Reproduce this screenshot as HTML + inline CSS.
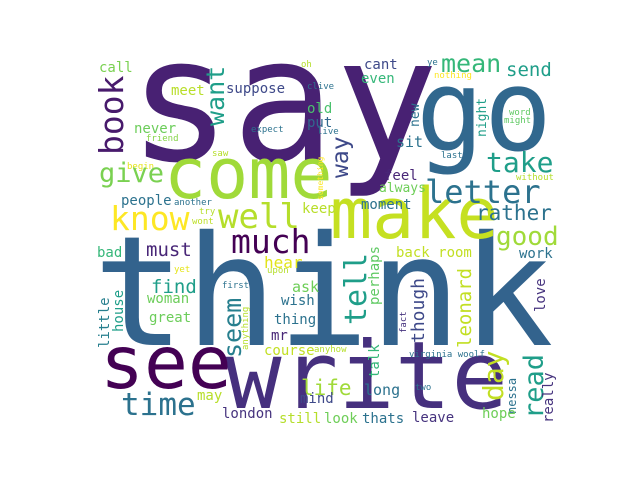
<!DOCTYPE html>
<html><head><meta charset="utf-8"><style>
html,body{margin:0;padding:0;background:#fff;}
svg{display:block;}
text{font-family:"DejaVu Sans Mono","Liberation Mono",monospace;}
</style></head><body>
<svg width="640" height="480" viewBox="0 0 640 480">
<rect width="640" height="480" fill="#fff"/>
<text x="128" y="160" font-size="172" fill="#482173">say</text>
<text x="93" y="345" font-size="153" fill="#33638d">think</text>
<text x="416" y="150" font-size="113" fill="#31688e">go</text>
<text x="164" y="198" font-size="70" fill="#a0da39">come</text>
<text x="330" y="238" font-size="70" fill="#c5e021">make</text>
<text x="225" y="408" font-size="94" fill="#46307e">write</text>
<text x="100" y="388" font-size="73" fill="#440154">see</text>
<text transform="translate(123,155) rotate(-90)" font-size="33" fill="#481a6c">book</text>
<text transform="translate(224,126) rotate(-90)" font-size="25" fill="#1f9e89">want</text>
<text x="99" y="72" font-size="14" fill="#7ad151">call</text>
<text x="226" y="93" font-size="14" fill="#3e4989">suppose</text>
<text x="171" y="95" font-size="14" fill="#b8de29">meet</text>
<text x="134" y="133" font-size="14" fill="#6ccd5a">never</text>
<text x="146" y="141" font-size="9" fill="#86d549">friend</text>
<text x="251" y="132" font-size="9" fill="#2c728e">expect</text>
<text x="212" y="156" font-size="9" fill="#b5de2b">saw</text>
<text x="301" y="67" font-size="9" fill="#b5de2b">oh</text>
<text x="307" y="89" font-size="9" fill="#2c728e">clive</text>
<text x="307" y="113" font-size="14" fill="#4ac16d">old</text>
<text x="307" y="127" font-size="14" fill="#31688e">put</text>
<text x="317" y="134" font-size="9" fill="#2c728e">live</text>
<text x="127" y="169" font-size="9" fill="#e5e419">begin</text>
<text transform="translate(323,200) rotate(-90)" font-size="8" fill="#fde725">something</text>
<text x="99" y="182" font-size="27" fill="#7ad151">give</text>
<text x="121" y="205" font-size="14" fill="#2c728e">people</text>
<text x="174" y="205" font-size="9" fill="#2c728e">another</text>
<text x="199" y="214" font-size="9" fill="#b5de2b">try</text>
<text x="192" y="224" font-size="9" fill="#bddf26">wont</text>
<text x="110" y="230" font-size="33" fill="#fde725">know</text>
<text x="218" y="228" font-size="34" fill="#b5de2b">well</text>
<text x="302" y="213" font-size="14" fill="#b8de29">keep</text>
<text x="231" y="253" font-size="33" fill="#440154">much</text>
<text x="146" y="256" font-size="19" fill="#482677">must</text>
<text x="97" y="257" font-size="14" fill="#35b779">bad</text>
<text x="264" y="268" font-size="16" fill="#e2e418">hear</text>
<text x="174" y="272" font-size="9" fill="#e5e419">yet</text>
<text x="267" y="273" font-size="9" fill="#b5de2b">upon</text>
<text x="151" y="293" font-size="19" fill="#1f9e89">find</text>
<text x="222" y="288" font-size="9" fill="#2c728e">first</text>
<text x="292" y="292" font-size="15" fill="#6ece58">ask</text>
<text x="147" y="303" font-size="14" fill="#6ccd5a">woman</text>
<text x="281" y="305" font-size="14" fill="#2c728e">wish</text>
<text x="149" y="322" font-size="14" fill="#6ccd5a">great</text>
<text x="274" y="324" font-size="14" fill="#2c728e">thing</text>
<text transform="translate(241,358) rotate(-90)" font-size="25" fill="#277f8e">seem</text>
<text transform="translate(248,350) rotate(-90)" font-size="9" fill="#b5de2b">anything</text>
<text transform="translate(109,348) rotate(-90)" font-size="14" fill="#277f8e">little</text>
<text transform="translate(123,332) rotate(-90)" font-size="14" fill="#1f9e89">house</text>
<text x="271" y="340" font-size="14" fill="#482677">mr</text>
<text x="264" y="355" font-size="14" fill="#c2df23">course</text>
<text x="314" y="352" font-size="9" fill="#b5de2b">anyhow</text>
<text x="121" y="415" font-size="31" fill="#2c728e">time</text>
<text x="197" y="400" font-size="14" fill="#b8de29">may</text>
<text x="301" y="395" font-size="21" fill="#a0da39">life</text>
<text x="300" y="403" font-size="14" fill="#3e4989">mind</text>
<text x="222" y="418" font-size="14" fill="#46337e">london</text>
<text x="279" y="423" font-size="14" fill="#b5de2b">still</text>
<text x="324" y="423" font-size="14" fill="#6ece58">look</text>
<text x="362" y="423" font-size="14" fill="#2c728e">thats</text>
<text x="412" y="422" font-size="14" fill="#46337e">leave</text>
<text x="364" y="395" font-size="15" fill="#2c728e">long</text>
<text x="415" y="390" font-size="9" fill="#2c728e">two</text>
<text transform="translate(379,378) rotate(-90)" font-size="14" fill="#35b779">talk</text>
<text x="409" y="357" font-size="9" fill="#2c728e">virginia woolf</text>
<text transform="translate(406,333) rotate(-90)" font-size="9" fill="#46337e">fact</text>
<text transform="translate(424,343) rotate(-90)" font-size="18" fill="#3e4989">though</text>
<text transform="translate(471,348) rotate(-90)" font-size="19" fill="#c2df23">leonard</text>
<text transform="translate(379,305) rotate(-90)" font-size="14" fill="#5ec962">perhaps</text>
<text transform="translate(366,325) rotate(-90)" font-size="30" fill="#1f9e89">tell</text>
<text x="396" y="257" font-size="14" fill="#c2df23">back room</text>
<text x="519" y="258" font-size="14" fill="#2c728e">work</text>
<text transform="translate(545,312) rotate(-90)" font-size="14" fill="#46337e">love</text>
<text transform="translate(503,401) rotate(-90)" font-size="28" fill="#c2df23">day</text>
<text transform="translate(516,414) rotate(-90)" font-size="12" fill="#2c728e">nessa</text>
<text transform="translate(543,419) rotate(-90)" font-size="27" fill="#1f9e89">read</text>
<text transform="translate(553,423) rotate(-90)" font-size="14" fill="#46337e">really</text>
<text x="482" y="418" font-size="14" fill="#6ece58">hope</text>
<text x="476" y="220" font-size="21" fill="#2c728e">rather</text>
<text x="496" y="245" font-size="26" fill="#a0da39">good</text>
<text x="425" y="203" font-size="32" fill="#2c728e">letter</text>
<text x="486" y="172" font-size="28" fill="#1f9e89">take</text>
<text x="361" y="209" font-size="14" fill="#2c728e">moment</text>
<text x="379" y="192" font-size="13" fill="#6ece58">always</text>
<text x="384" y="180" font-size="14" fill="#482677">feel</text>
<text transform="translate(348,178) rotate(-90)" font-size="23" fill="#3e4989">way</text>
<text x="396" y="147" font-size="15" fill="#2c728e">sit</text>
<text transform="translate(419,127) rotate(-90)" font-size="13" fill="#2c728e">new</text>
<text transform="translate(486,137) rotate(-90)" font-size="13" fill="#1f9e89">night</text>
<text x="364" y="69" font-size="14" fill="#3e4989">cant</text>
<text x="361" y="83" font-size="14" fill="#35b779">even</text>
<text x="427" y="65" font-size="9" fill="#2c728e">ye</text>
<text x="434" y="78" font-size="9" fill="#fde725">nothing</text>
<text x="441" y="72" font-size="25" fill="#35b779">mean</text>
<text x="506" y="76" font-size="19" fill="#1f9e89">send</text>
<text x="509" y="115" font-size="9" fill="#5ec962">word</text>
<text x="504" y="123" font-size="9" fill="#5ec962">might</text>
<text x="441" y="158" font-size="9" fill="#2c728e">last</text>
<text x="516" y="180" font-size="9" fill="#b5de2b">without</text>
</svg>
</body></html>
